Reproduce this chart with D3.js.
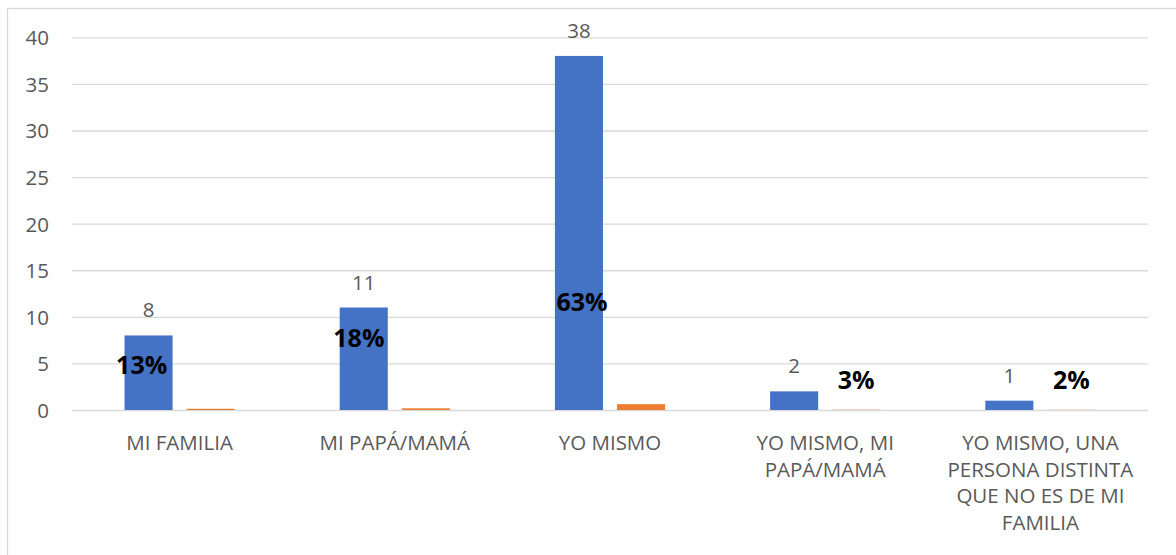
<!DOCTYPE html>
<html>
<head>
  <meta charset="utf-8">
  <title>Chart</title>
  <script src="https://d3js.org/d3.v7.min.js"></script>
  <style>
    body { margin: 0; background: #fff; }
    text { font-family: "Open Sans", sans-serif; }
  </style>
</head>
<body>
  <div id="chart"></div>

  <script>
    // data
    var categories = ['MI FAMILIA', 'MI PAPÁ/MAMÁ', 'YO MISMO', 'YO MISMO, MI PAPÁ/MAMÁ',
      'YO MISMO, UNA PERSONA DISTINTA QUE NO ES DE MI FAMILIA'];
    var counts = [8, 11, 38, 2, 1];
    var shares = [0.13, 0.18, 0.63, 0.03, 0.02];
    var shareLabels = ['13%', '18%', '63%', '3%', '2%'];
    var yTicks = [0, 5, 10, 15, 20, 25, 30, 35, 40];
    var seriesNames = ['count', 'share'];

    // hand-moved percent labels (pixel nudge from default spot)
    var shareLabelNudge = [[-69, -14], [-67, -41], [-59, -73], [0, 0], [0, 0]];

    var W = 1176, H = 555;
    var plotLeft = 72, plotRight = 1148, plotTop = 37.3, plotBottom = 410;
    var blue = '#4472C4', orange = '#ED7D31', grid = '#d9d9d9', grey = '#595959';

    var svg = d3.select('#chart').append('svg')
      .attr('width', W)
      .attr('height', H);

    // chart frame
    svg.append('rect')
      .attr('x', 7.5).attr('y', 8.5)
      .attr('width', W + 20).attr('height', H + 20)
      .attr('fill', 'none')
      .attr('stroke', grid)
      .attr('stroke-width', 1.3);

    var x0 = d3.scaleBand()
      .domain(categories)
      .range([plotLeft, plotRight])
      .paddingInner(0.488)
      .paddingOuter(0.244);

    var x1 = d3.scaleBand()
      .domain(seriesNames)
      .range([0, x0.bandwidth()])
      .paddingInner(0.226);

    var y = d3.scaleLinear()
      .domain([0, 40])
      .range([plotBottom, plotTop]);

    // y axis + gridlines
    var yAxis = svg.append('g')
      .attr('transform', 'translate(' + plotLeft + ',0)')
      .call(d3.axisLeft(y).tickValues(yTicks).tickSizeInner(-(plotRight - plotLeft)).tickSizeOuter(0).tickPadding(23));
    yAxis.select('.domain').remove();
    yAxis.selectAll('line').attr('stroke', grid).attr('stroke-width', 1.3);
    yAxis.selectAll('text')
      .attr('fill', grey)
      .style('font-size', '20.5px')
      .attr('dy', '0.36em');

    // x axis labels
    var xAxis = svg.append('g')
      .attr('transform', 'translate(0,' + plotBottom + ')')
      .call(d3.axisBottom(x0).tickSize(0));
    xAxis.select('.domain').remove();
    xAxis.selectAll('text')
      .attr('fill', grey)
      .style('font-size', '20.5px')
      .attr('y', 40)
      .attr('dy', 0)
      .call(wrap, x0.step() - 12);

    function wrap(sel, width) {
      sel.each(function() {
        var text = d3.select(this);
        var words = text.text().split(/\s+/);
        text.text(null);
        var line = [];
        var tspan = text.append('tspan').attr('x', 0).attr('dy', 0);
        words.forEach(function(w) {
          line.push(w);
          tspan.text(line.join(' '));
          if (tspan.node().getComputedTextLength() > width && line.length > 1) {
            line.pop();
            tspan.text(line.join(' '));
            line = [w];
            tspan = text.append('tspan').attr('x', 0).attr('dy', 26.7).text(w);
          }
        });
      });
    }

    var groups = svg.selectAll('.cat')
      .data(categories)
      .enter()
      .append('g')
      .attr('class', 'cat')
      .attr('transform', function(d) { return 'translate(' + x0(d) + ',0)'; });

    // count bars
    groups.append('rect')
      .attr('x', x1('count'))
      .attr('y', function(d, i) { return y(counts[i]); })
      .attr('width', x1.bandwidth())
      .attr('height', function(d, i) { return plotBottom - y(counts[i]); })
      .attr('fill', blue);

    // share bars (plotted as fractions on the same axis)
    groups.append('rect')
      .attr('x', x1('share'))
      .attr('y', function(d, i) { return y(shares[i]); })
      .attr('width', x1.bandwidth())
      .attr('height', function(d, i) { return plotBottom - y(shares[i]); })
      .attr('fill', orange);

    // count labels
    groups.append('text')
      .attr('x', x1('count') + x1.bandwidth() / 2)
      .attr('y', function(d, i) { return y(counts[i]) - 18; })
      .attr('text-anchor', 'middle')
      .attr('fill', grey)
      .style('font-size', '20.5px')
      .text(function(d, i) { return counts[i]; });

    // percent labels
    groups.append('text')
      .attr('x', function(d, i) { return x1('share') + x1.bandwidth() / 2 + shareLabelNudge[i][0]; })
      .attr('y', function(d, i) { return y(shares[i]) - 20.5 + shareLabelNudge[i][1]; })
      .attr('text-anchor', 'middle')
      .attr('fill', '#000')
      .style('font-size', '25px')
      .style('font-weight', 'bold')
      .text(function(d, i) { return shareLabels[i]; });
  </script>
</body>
</html>
